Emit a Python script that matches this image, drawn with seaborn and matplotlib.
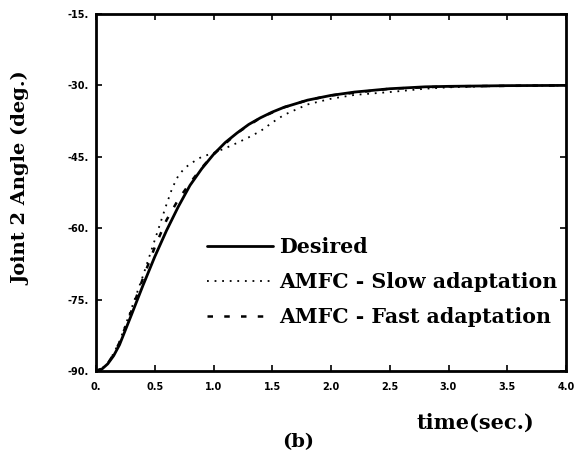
import numpy as np
import pandas as pd
import matplotlib
matplotlib.use("Agg")
import matplotlib.pyplot as plt
import seaborn as sns

# Joint 2 angle step response (deg.) versus time (sec.)
t_desired = [0.0, 0.05, 0.1, 0.15, 0.2, 0.3, 0.4, 0.5, 0.6, 0.7, 0.8, 0.9, 1.0,
             1.1, 1.2, 1.3, 1.4, 1.5, 1.6, 1.8, 2.0, 2.2, 2.5, 2.8, 3.0, 3.5, 4.0]
desired = [-90.0, -89.6, -88.5, -86.8, -84.5, -78.3, -72.0, -66.0, -60.5, -55.5,
           -51.0, -47.5, -44.5, -42.0, -40.0, -38.2, -36.8, -35.6, -34.6, -33.1,
           -32.1, -31.4, -30.7, -30.3, -30.2, -30.05, -30.0]

t_slow = [0.0, 0.05, 0.1, 0.15, 0.2, 0.3, 0.4, 0.5, 0.6, 0.65, 0.7, 0.75, 0.8,
          0.9, 1.0, 1.1, 1.2, 1.3, 1.4, 1.5, 1.6, 1.8, 2.0, 2.2, 2.5, 2.8, 3.0,
          3.5, 4.0]
slow = [-90.0, -89.5, -88.3, -86.3, -83.8, -77.0, -70.0, -62.5, -55.0, -51.5,
        -49.0, -47.5, -46.5, -45.0, -44.2, -43.2, -42.1, -40.9, -39.6, -37.8,
        -36.2, -34.0, -32.8, -32.0, -31.4, -30.7, -30.4, -30.1, -30.0]

t_fast = [0.0, 0.05, 0.1, 0.15, 0.2, 0.3, 0.4, 0.5, 0.6, 0.7, 0.8, 0.9, 1.0,
          1.2, 1.4, 1.6, 1.8, 2.0, 2.5, 3.0, 4.0]
fast = [-90.0, -89.5, -88.4, -86.5, -84.0, -77.5, -70.5, -64.0, -58.3, -54.0,
        -50.5, -47.3, -44.5, -40.0, -36.8, -34.6, -33.1, -32.1, -30.7, -30.2, -30.0]

series_labels = ["Desired", "AMFC - Slow adaptation", "AMFC - Fast adaptation"]
x_ticks = [0.0, 0.5, 1.0, 1.5, 2.0, 2.5, 3.0, 3.5, 4.0]
x_ticklabels = ["0.", "0.5", "1.0", "1.5", "2.0", "2.5", "3.0", "3.5", "4.0"]
y_ticks = [-90, -75, -60, -45, -30, -15]
y_ticklabels = ["-90.", "-75.", "-60.", "-45.", "-30.", "-15."]

sns.set_theme(style="ticks")
plt.rcParams["font.family"] = ["DejaVu Serif", "DejaVu Sans"]
plt.rcParams["text.color"] = "black"

fig = plt.figure(figsize=(5.88, 4.75), dpi=100)
ax = fig.add_axes([96 / 588, 1 - 371 / 475, 470 / 588, 357 / 475])

df_d = pd.DataFrame({"t": t_desired, "angle": desired})
df_s = pd.DataFrame({"t": t_slow, "angle": slow})
df_f = pd.DataFrame({"t": t_fast, "angle": fast})

sns.lineplot(data=df_d, x="t", y="angle", ax=ax, color="black", lw=2.0,
             linestyle="-", label=series_labels[0])
sns.lineplot(data=df_s, x="t", y="angle", ax=ax, color="black", lw=1.3,
             linestyle=(0, (1, 3.2)), label=series_labels[1])
sns.lineplot(data=df_f, x="t", y="angle", ax=ax, color="black", lw=1.8,
             linestyle=(0, (2.2, 4.5)), label=series_labels[2])

ax.set_xlim(0, 4)
ax.set_ylim(-90, -15)
ax.set_xticks(x_ticks)
ax.set_xticklabels(x_ticklabels)
ax.set_yticks(y_ticks)
ax.set_yticklabels(y_ticklabels)
ax.set_xlabel("")
ax.set_ylabel("")

for s in ax.spines.values():
    s.set_linewidth(2.0)
    s.set_color("black")

ax.tick_params(axis="both", direction="in", length=4, width=1.2,
               top=True, right=True, colors="black", labelcolor="black")
ax.tick_params(axis="x", pad=8)
ax.tick_params(axis="y", pad=5)
for lab in ax.get_xticklabels() + ax.get_yticklabels():
    lab.set_fontfamily("DejaVu Sans")
    lab.set_fontweight("bold")
    lab.set_fontsize(7)

leg = ax.legend(loc="center left", bbox_to_anchor=((207 - 96) / 470, (371 - 282) / 357),
                frameon=False, borderpad=0, borderaxespad=0, handlelength=3.2,
                handletextpad=0.3, labelspacing=0.72,
                prop={"family": "DejaVu Serif", "weight": "bold", "size": 14.8})
for txt in leg.get_texts():
    txt.set_color("black")

fig.text(21 / 588, 1 - 178 / 475, "Joint 2 Angle (deg.)", rotation=90,
         ha="center", va="center", fontsize=14, fontweight="bold",
         family="DejaVu Serif", color="black")
fig.text(475 / 588, 1 - 423 / 475, "time(sec.)", ha="center", va="center",
         fontsize=15, fontweight="bold", family="DejaVu Serif", color="black")
fig.text(298 / 588, 1 - 442 / 475, "(b)", ha="center", va="center",
         fontsize=14, fontweight="bold", family="DejaVu Serif", color="black")

fig.savefig("out.png", dpi=100, facecolor="white")
